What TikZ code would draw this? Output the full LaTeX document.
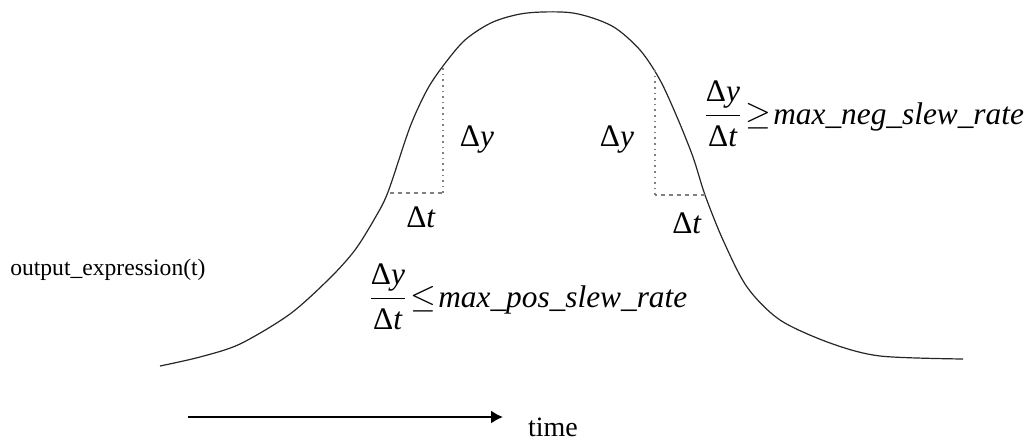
\documentclass[tikz,border=0pt]{standalone}
\usepackage{amsmath}
\usepackage{fontspec}
\setmainfont{Liberation Serif}
\usetikzlibrary{arrows.meta}
\begin{document}
\begin{tikzpicture}[x=0.75pt,y=-0.75pt,
  curve/.style={line width=0.9pt, black!85},
  guide/.style={line width=0.8pt, gray, dash pattern=on 1.2pt off 3pt},
  hguide/.style={line width=0.8pt, gray, dash pattern=on 3pt off 3pt},
  lbl/.style={font=\fontsize{23.5}{27}\selectfont, inner sep=0pt},
  plain/.style={font=\fontsize{17.7}{21}\selectfont, inner sep=0pt},
  axis/.style={line width=2pt, -{Latex[length=9pt,width=10pt]}}]
\useasboundingbox (0,0) rectangle (1034,443);
\draw[curve] plot[smooth,tension=0.5] coordinates {(160,366) (200,357) (240,344) (290,314) (330,278) (355,250) (375,218) (388,192) (410,127) (427,90) (443,66) (465,40) (493,22) (527,13) (573,13) (612,26) (640,50) (660,80) (677,117) (693,157) (705,195) (723,240) (747,287) (780,320) (830,343) (880,356) (963,359)};
\coordinate (l1) at (390,193);
\coordinate (l2) at (443,193);
\coordinate (l3) at (443,68);
\coordinate (r1) at (705,195);
\coordinate (r2) at (655,195);
\coordinate (r3) at (655,70);
\draw[hguide] (l1) -- (l2);
\draw[guide] (l2) -- (l3);
\draw[hguide] (r1) -- (r2);
\draw[guide] (r2) -- (r3);
\node[lbl] (dyl) at (477,140) {Δ\textit{y}};
\node[lbl] (dyr) at (617,140) {Δ\textit{y}};
\node[lbl] (dtl) at (421,217) {Δ\textit{t}};
\node[lbl] (dtr) at (687,223) {Δ\textit{t}};
\node[lbl, anchor=west] (neg) at (704,114) {$\dfrac{\text{Δ\textit{y}}}{\text{Δ\textit{t}}}\!\geq\!$ \textit{max\_neg\_slew\_rate}};
\node[lbl, anchor=west] (pos) at (369,297) {$\dfrac{\text{Δ\textit{y}}}{\text{Δ\textit{t}}}\!\leq\!$ \textit{max\_pos\_slew\_rate}};
\node[plain, anchor=west] (out) at (10,270) {output\_expression(t)};
\coordinate (a0) at (188,417);
\coordinate (a1) at (503,417);
\draw[axis] (a0) -- (a1);
\node[plain, font=\fontsize{21}{24}\selectfont, anchor=base] (time) at (553,436) {time};
\end{tikzpicture}
\end{document}
